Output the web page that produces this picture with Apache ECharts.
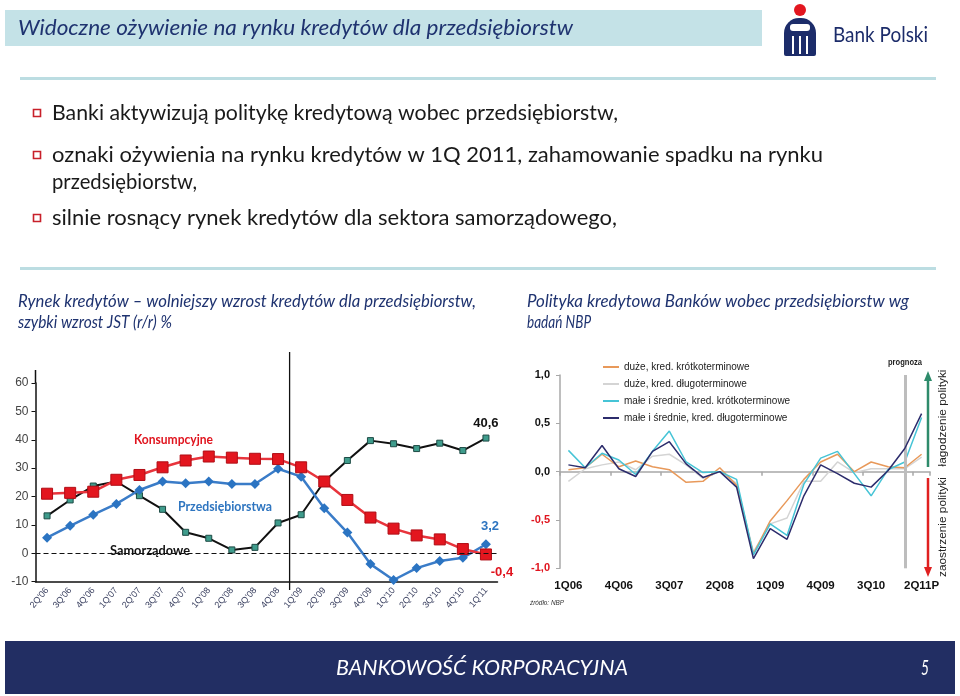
<!DOCTYPE html>
<html><head><meta charset="utf-8">
<script src="https://cdn.jsdelivr.net/npm/echarts@6/dist/echarts.min.js"></script>
<style>html,body{margin:0;padding:0;background:#fff}#c{width:960px;height:696px}</style>
</head><body><div id="c"></div>
<script>
// ---------- LEFT CHART DATA ----------
const leftCategories = ["2Q'06","3Q'06","4Q'06","1Q'07","2Q'07","3Q'07","4Q'07","1Q'08","2Q'08","3Q'08","4Q'08","1Q'09","2Q'09","3Q'09","4Q'09","1Q'10","2Q'10","3Q'10","4Q'10","1Q'11"];
const konsumpcyjne = [21.0, 21.3, 21.7, 25.9, 27.6, 30.3, 32.7, 34.1, 33.7, 33.3, 33.2, 30.3, 25.3, 18.8, 12.6, 8.7, 6.3, 4.9, 1.5, -0.4];
const przedsiebiorstwa = [5.5, 9.7, 13.6, 17.4, 22.3, 25.3, 24.7, 25.3, 24.4, 24.4, 29.8, 27.0, 15.9, 7.3, -3.8, -9.4, -5.2, -2.7, -1.6, 3.2];
const samorzadowe = [13.2, 18.8, 23.7, 25.3, 20.3, 15.5, 7.4, 5.3, 1.2, 2.1, 10.7, 13.6, 25.3, 32.7, 39.7, 38.6, 36.9, 38.8, 36.2, 40.6];
const leftYMin = -10, leftYMax = 60, leftYStep = 10;

// ---------- RIGHT CHART DATA ----------
const rightCategories = ['1Q06','2Q06','3Q06','4Q06','1Q07','2Q07','3Q07','4Q07','1Q08','2Q08','3Q08','4Q08','1Q09','2Q09','3Q09','4Q09','1Q10','2Q10','3Q10','4Q10','1Q11','2Q11P'];
const duzeKrotko  = [0.02, 0.04, 0.18, 0.05, 0.11, 0.05, 0.02, -0.11, -0.10, 0.04, -0.14, -0.85, -0.51, -0.30, -0.08, 0.10, 0.18, 0.00, 0.10, 0.05, 0.04, 0.18];
const duzeDlugo   = [-0.10, 0.03, 0.07, 0.10, 0.02, 0.16, 0.18, 0.07, -0.07, 0.00, -0.12, -0.83, -0.54, -0.48, -0.10, -0.10, 0.10, -0.01, 0.03, 0.03, 0.03, 0.15];
const msKrotko    = [0.22, 0.04, 0.19, 0.12, -0.03, 0.21, 0.42, 0.10, -0.01, 0.00, -0.08, -0.86, -0.54, -0.66, -0.13, 0.14, 0.21, -0.02, -0.25, 0.02, 0.10, 0.56];
const msDlugo     = [0.07, 0.04, 0.27, 0.03, -0.05, 0.21, 0.31, 0.08, -0.06, 0.00, -0.16, -0.90, -0.59, -0.70, -0.25, 0.07, -0.02, -0.12, -0.16, 0.01, 0.24, 0.60];
const rightNames = ['duże, kred. krótkoterminowe','duże, kred. długoterminowe','małe i średnie, kred. krótkoterminowe','małe i średnie, kred. długoterminowe'];
const rightYMin = -1, rightYMax = 1, rightYStep = 0.5;

const fmtComma = v => String(v).replace('.', ',');
const fmt1 = v => v.toFixed(1).replace('.', ',');

const chart = echarts.init(document.getElementById('c'), null, {renderer:'canvas', width:960, height:696});

function lastLabel(arr, labelCfg) {
  return arr.map((v, i) => i === arr.length - 1 ? {value: v, label: Object.assign({show:true, formatter: p => fmtComma(p.value), fontFamily:'Liberation Sans', fontWeight:'bold', fontSize:13}, labelCfg)} : v);
}

const option = {
  animation: false,
  backgroundColor: '#fff',
  grid: [
    {left: 35.5, right: 462.5, top: 383, bottom: 114.3},
    {left: 560, right: 30, top: 375, bottom: 127.7}
  ],
  xAxis: [
    {gridIndex:0, type:'category', data:leftCategories, boundaryGap:true,
     axisLine:{onZero:false, lineStyle:{color:'#111', width:1.5}},
     axisTick:{inside:true, length:4, lineStyle:{color:'#111'}},
     axisLabel:{rotate:50, fontSize:9, color:'#3a4060', fontFamily:'Liberation Sans', margin:7, interval:0}},
    {gridIndex:1, type:'category', data:rightCategories, boundaryGap:true,
     axisLine:{onZero:true, lineStyle:{color:'#a8a8a8', width:1.5}},
     axisTick:{show:true, interval:2, length:4, lineStyle:{color:'#a8a8a8', width:1.5}},
     axisLabel:{show:false}},
    {gridIndex:1, type:'category', data:rightCategories, boundaryGap:true, position:'bottom',
     axisLine:{show:false, onZero:false}, axisTick:{show:false},
     axisLabel:{show:true, interval:2, margin:12, fontSize:11.5, fontWeight:'bold', color:'#111', fontFamily:'Liberation Sans'}}
  ],
  yAxis: [
    {gridIndex:0, type:'value', min:leftYMin, max:leftYMax, interval:leftYStep,
     axisLine:{show:true, lineStyle:{color:'#111', width:1.5}},
     axisTick:{show:true, length:4, lineStyle:{color:'#111'}},
     splitLine:{show:false},
     axisLabel:{fontSize:12, color:'#444', fontFamily:'Liberation Sans', margin:7}},
    {gridIndex:1, type:'value', min:rightYMin, max:rightYMax, interval:rightYStep,
     axisLine:{show:true, lineStyle:{color:'#a8a8a8', width:1.5}},
     axisTick:{show:true, length:4, lineStyle:{color:'#a8a8a8'}},
     splitLine:{show:false},
     axisLabel:{fontSize:11, fontWeight:'bold', fontFamily:'Liberation Sans', margin:10,
       formatter: v => fmt1(v), color: v => (Number(v) < 0 ? '#e0141e' : '#111')}}
  ],
  legend: {
    data: rightNames, orient:'vertical', left: 598, top: 356, icon:'rect', itemWidth: 16, itemHeight: 2, itemGap: 5,
    textStyle:{fontSize:10, color:'#222', fontFamily:'Liberation Sans', lineHeight:12}, selectedMode:false
  },
  series: [
    {name:'Samorządowe', type:'line', xAxisIndex:0, yAxisIndex:0, data: lastLabel(samorzadowe, {position:'top', distance:5, color:'#111'}),
     symbol:'rect', symbolSize:6, lineStyle:{color:'#111', width:2}, itemStyle:{color:'#3f9c8c', borderColor:'#1d4a44', borderWidth:1}, z:2,
     markLine:{silent:true, symbol:'none', label:{show:false}, lineStyle:{color:'#111', width:1.2, type:[5,3]}, data:[{yAxis:0}]}},
    {name:'Przedsiębiorstwa', type:'line', xAxisIndex:0, yAxisIndex:0, data: lastLabel(przedsiebiorstwa, {position:'top', distance:6, offset:[4,0], color:'#2e75c0'}),
     symbol:'diamond', symbolSize:10, lineStyle:{color:'#3a7cc8', width:2.5}, itemStyle:{color:'#2b74c2'}, z:3},
    {name:'Konsumpcyjne', type:'line', xAxisIndex:0, yAxisIndex:0, data: lastLabel(konsumpcyjne, {position:'bottom', distance:5, offset:[16,0], color:'#e0141e'}),
     symbol:'rect', symbolSize:11, lineStyle:{color:'#e8343c', width:2.5}, itemStyle:{color:'#e3161f', borderColor:'#b00d15', borderWidth:1}, z:4},
    {name:rightNames[1], type:'line', xAxisIndex:1, yAxisIndex:1, data:duzeDlugo, symbol:'none', lineStyle:{color:'#d4d4d4', width:1.5}, itemStyle:{color:'#d4d4d4'}, z:2,
     markLine:{silent:true, symbol:'none', label:{show:false}, lineStyle:{color:'#bdbdbd', width:3, type:'solid'}, data:[{xAxis:'1Q11'}]}},
    {name:rightNames[0], type:'line', xAxisIndex:1, yAxisIndex:1, data:duzeKrotko, symbol:'none', lineStyle:{color:'#e8995a', width:1.5}, itemStyle:{color:'#e8995a'}, z:3},
    {name:rightNames[2], type:'line', xAxisIndex:1, yAxisIndex:1, data:msKrotko, symbol:'none', lineStyle:{color:'#46c4d6', width:1.5}, itemStyle:{color:'#46c4d6'}, z:4},
    {name:rightNames[3], type:'line', xAxisIndex:1, yAxisIndex:1, data:msDlugo, symbol:'none', lineStyle:{color:'#2c2c6c', width:1.5}, itemStyle:{color:'#2c2c6c'}, z:5}
  ]
};
chart.setOption(option);

// ---------- slide decoration ----------
const mctx = document.createElement('canvas').getContext('2d');
function fitText(text, x, y, width, o) {
  const size = o.size, fam = o.family || 'Lato', st = o.style || 'normal', wt = o.weight || 'normal';
  mctx.font = st + ' ' + wt + ' ' + size + 'px ' + fam;
  const w = mctx.measureText(text).width || 1;
  return {type:'text', x, y, scaleX: width / w, rotation: o.rotation || 0, z: 100,
    style:{text, fontSize:size, fontFamily:fam, fontStyle:st, fontWeight:wt, fill:o.color || '#111', align:o.align || 'left', verticalAlign:'middle'}};
}
const NAVY = '#1f3370';
const els = [];
// title bar
els.push({type:'rect', shape:{x:5, y:10, width:757, height:36}, style:{fill:'#c4e2e7'}, z:1});
els.push(fitText('Widoczne ożywienie na rynku kredytów dla przedsiębiorstw', 18, 28, 555, {size:22, style:'italic', color:NAVY}));
// logo
els.push({type:'circle', shape:{cx:800, cy:10, r:6}, style:{fill:'#e3161f'}, z:5});
els.push({type:'rect', shape:{x:784, y:18, width:32, height:38, r:[15,15,2,2]}, style:{fill:'#1c2c6a'}, z:5});
els.push({type:'rect', shape:{x:790, y:24, width:20, height:7, r:3}, style:{fill:'#fff'}, z:6});
els.push({type:'rect', shape:{x:792, y:36, width:2, height:18}, style:{fill:'#fff'}, z:6});
els.push({type:'rect', shape:{x:799, y:36, width:2, height:18}, style:{fill:'#fff'}, z:6});
els.push({type:'rect', shape:{x:806, y:36, width:2, height:18}, style:{fill:'#fff'}, z:6});
els.push(fitText('Bank Polski', 833, 35, 95, {size:21, color:'#1c2c6a'}));
// separators
els.push({type:'rect', shape:{x:20, y:77, width:916, height:3}, style:{fill:'#bcdde2'}, z:1});
els.push({type:'rect', shape:{x:20, y:267, width:916, height:3}, style:{fill:'#bcdde2'}, z:1});
// bullets
const bullets = [
  ['Banki aktywizują politykę kredytową wobec przedsiębiorstw,', 113, 566, true],
  ['oznaki ożywienia na rynku kredytów w 1Q 2011, zahamowanie spadku na rynku', 155, 771, true],
  ['przedsiębiorstw,', 182, 145, false],
  ['silnie rosnący rynek kredytów dla sektora samorządowego,', 218, 565, true]
];
bullets.forEach(b => {
  els.push(fitText(b[0], 52, b[1], b[2], {size:22, color:'#1a1a1a'}));
  if (b[3]) els.push({type:'rect', shape:{x:33.5, y:b[1]-3.5, width:7, height:7}, style:{fill:'#fff', stroke:'#c8202a', lineWidth:1.6}, z:5});
});
// subtitles
els.push(fitText('Rynek kredytów – wolniejszy wzrost kredytów dla przedsiębiorstw,', 18, 302, 458, {size:17, style:'italic', color:NAVY}));
els.push(fitText('szybki wzrost JST (r/r) %', 18, 323, 154, {size:17, style:'italic', color:NAVY}));
els.push(fitText('Polityka kredytowa Banków wobec przedsiębiorstw wg', 527, 302, 382, {size:17, style:'italic', color:NAVY}));
els.push(fitText('badań NBP', 527, 323, 64, {size:17, style:'italic', color:NAVY}));
// left chart annotations
els.push(fitText('Konsumpcyjne', 134, 440, 79, {size:13, weight:'bold', color:'#e0141e'}));
els.push(fitText('Przedsiębiorstwa', 178, 507, 94, {size:13, weight:'bold', color:'#2e75c0'}));
els.push(fitText('Samorządowe', 110, 551, 80, {size:13, weight:'bold', color:'#111'}));
// right chart annotations
els.push(fitText('prognoza', 905, 363, 34, {size:9, weight:'bold', family:'Liberation Sans', color:'#222', align:'center'}));
els.push(fitText('źródło: NBP', 530, 603, 34, {size:8, style:'italic', family:'Liberation Sans', color:'#333'}));
els.push(fitText('łagodzenie polityki', 943, 418, 97, {size:11, family:'Liberation Sans', color:'#222', align:'center', rotation:Math.PI/2}));
els.push(fitText('zaostrzenie polityki', 943, 527, 100, {size:11, family:'Liberation Sans', color:'#222', align:'center', rotation:Math.PI/2}));
els.push({type:'line', shape:{x1:928, y1:380, x2:928, y2:467}, style:{stroke:'#2e8b6b', lineWidth:2.5}, z:5});
els.push({type:'polygon', shape:{points:[[928,371],[924,381],[932,381]]}, style:{fill:'#2e8b6b'}, z:5});
els.push({type:'line', shape:{x1:928, y1:478, x2:928, y2:568}, style:{stroke:'#e02020', lineWidth:2.5}, z:5});
els.push({type:'polygon', shape:{points:[[928,577],[924,567],[932,567]]}, style:{fill:'#e02020'}, z:5});
// left separator vertical line between 4Q'08 and 1Q'09
const xa = chart.convertToPixel({xAxisIndex:0}, "4Q'08");
const xb = chart.convertToPixel({xAxisIndex:0}, "1Q'09");
const xm = (xa + xb) / 2;
els.push({type:'line', shape:{x1:xm, y1:352, x2:xm, y2:590}, style:{stroke:'#111', lineWidth:1.3}, z:5});
// left y axis extends above the top tick
const y60 = chart.convertToPixel({yAxisIndex:0}, leftYMax);
const x0 = chart.convertToPixel({xAxisIndex:0}, leftCategories[0]) - (xb - xa) / 2;
els.push({type:'line', shape:{x1:x0, y1:y60 - 13, x2:x0, y2:y60}, style:{stroke:'#111', lineWidth:1.5}, z:5});
// footer
els.push({type:'rect', shape:{x:5, y:641, width:950, height:53}, style:{fill:'#222e63'}, z:1});
els.push(fitText('BANKOWOŚĆ KORPORACYJNA', 336, 668, 292, {size:22, style:'italic', color:'#fff'}));
els.push(fitText('5', 921, 668, 8, {size:21, style:'italic', color:'#fff'}));

chart.setOption({graphic:{elements:els}});
</script></body></html>
